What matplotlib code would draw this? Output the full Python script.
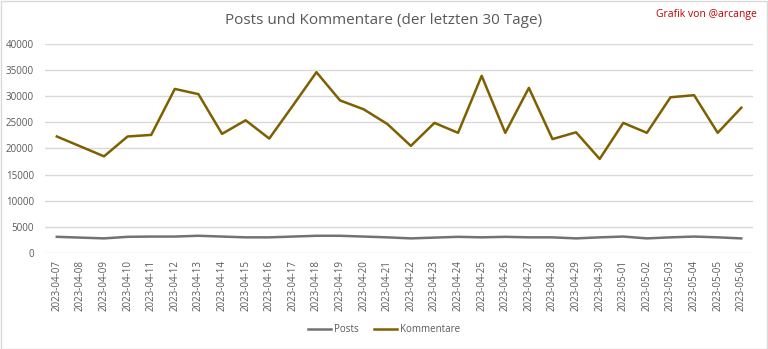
import matplotlib
matplotlib.use("Agg")
import matplotlib.pyplot as plt
from matplotlib.patches import Rectangle

dates = [
    "2023-04-07", "2023-04-08", "2023-04-09", "2023-04-10", "2023-04-11",
    "2023-04-12", "2023-04-13", "2023-04-14", "2023-04-15", "2023-04-16",
    "2023-04-17", "2023-04-18", "2023-04-19", "2023-04-20", "2023-04-21",
    "2023-04-22", "2023-04-23", "2023-04-24", "2023-04-25", "2023-04-26",
    "2023-04-27", "2023-04-28", "2023-04-29", "2023-04-30", "2023-05-01",
    "2023-05-02", "2023-05-03", "2023-05-04", "2023-05-05", "2023-05-06",
]
posts = [
    3100, 2950, 2800, 3100, 3150, 3150, 3300, 3150, 3000, 3000,
    3150, 3300, 3300, 3150, 3000, 2800, 2950, 3100, 3000, 3100,
    3000, 3000, 2800, 3000, 3150, 2800, 3000, 3150, 3000, 2800,
]
kommentare = [
    22300, 20400, 18500, 22300, 22600, 31400, 30400, 22800, 25400, 21900,
    28200, 34600, 29200, 27500, 24700, 20500, 24900, 23000, 33900, 23000,
    31600, 21800, 23100, 18000, 24900, 23000, 29800, 30200, 23000, 27800,
]

plt.rcParams["font.family"] = ["Open Sans", "DejaVu Sans"]
text_gray = "#595959"

fig = plt.figure(figsize=(7.68, 3.49), dpi=100)
fig.patches.append(Rectangle((0.001, 0.001), 0.998, 0.997, transform=fig.transFigure,
                             fill=False, edgecolor="#D9D9D9", linewidth=1.0))

ax = fig.add_axes([0.0586, 0.275, 0.922, 0.599])
x = list(range(len(dates)))
ax.plot(x, posts, color="#767171", linewidth=1.8, label="Posts")
ax.plot(x, kommentare, color="#7F6000", linewidth=1.8, label="Kommentare")

ax.set_xlim(-0.5, len(dates) - 0.5)
ax.set_ylim(0, 40000)
ax.set_yticks(range(0, 40001, 5000))
ax.set_yticklabels([str(v) for v in range(0, 40001, 5000)])
ax.set_xticks(x)
ax.set_xticklabels(dates, rotation=90)
ax.tick_params(axis="both", length=0, labelsize=7, labelcolor=text_gray)
ax.tick_params(axis="x", pad=5)
ax.tick_params(axis="y", pad=8)
ax.grid(axis="y", color="#D9D9D9", linewidth=1.0)
ax.set_axisbelow(True)
for s in ax.spines.values():
    s.set_visible(False)

fig.text(0.499, 0.94, "Posts und Kommentare (der letzten 30 Tage)", ha="center", va="center",
         fontsize=11, color=text_gray)
fig.text(0.986, 0.958, "Grafik von @arcange", ha="right", va="center",
         fontsize=7.5, color="#C00000")

fig.legend(loc="center", bbox_to_anchor=(0.5, 0.055), ncol=2, frameon=False,
           fontsize=7, labelcolor=text_gray, handlelength=2.4, columnspacing=1.5,
           handletextpad=0.3)

fig.savefig("out.png", dpi=100)
